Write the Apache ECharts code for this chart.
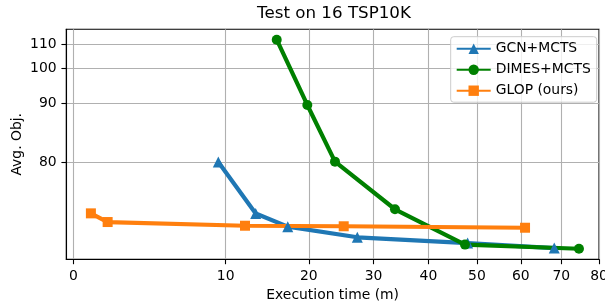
<!DOCTYPE html>
<html>
<head>
<meta charset="utf-8">
<script src="https://cdn.jsdelivr.net/npm/echarts@6/dist/echarts.min.js"></script>
<style>
  html, body { margin: 0; padding: 0; background: #fff; }
  #chart { width: 605px; height: 301px; }
</style>
</head>
<body>
<div id="chart"></div>
<script>
// values
const xTicks = [0, 10, 20, 30, 40, 50, 60, 70, 80];
const yTicks = [80, 90, 100, 110];

const gcnTime = [9.27, 13.24, 17.16, 27.31, 48.0, 68.2];
const gcnObj = [80.0, 75.46, 74.68, 74.13, 73.86, 73.64];

const dimesTime = [15.76, 19.79, 23.81, 33.74, 47.44, 74.6];
const dimesObj = [112.07, 89.54, 80.04, 75.74, 73.79, 73.61];

const glopTime = [0.6, 1.31, 12.04, 25.15, 61.0];
const glopObj = [75.47, 74.94, 74.73, 74.70, 74.62];

// the original axes are not linear: x goes like sqrt(t + 1), y like log10(obj - 70)
const fx = v => Math.sqrt(v + 1);
const fy = v => Math.log10(v - 70);
const pts = (xs, ys) => xs.map((x, i) => [fx(x), fy(ys[i])]);

const font = 'DejaVu Sans';

function lineSeries(name, xs, ys, color, symbol, size) {
  return {
    name: name,
    type: 'line',
    data: pts(xs, ys),
    symbol: symbol,
    symbolSize: size,
    lineStyle: { width: 4.2, color: color },
    itemStyle: { color: color },
    emphasis: { disabled: true }
  };
}

const chart = echarts.init(document.getElementById('chart'));
chart.setOption({
  animation: false,
  backgroundColor: '#fff',
  title: {
    text: 'Test on 16 TSP10K',
    left: 334,
    textAlign: 'center',
    top: 5,
    padding: 0,
    textStyle: { fontFamily: font, fontSize: 16.7, fontWeight: 'normal', color: '#000' }
  },
  grid: {
    left: 66.3, right: 6, top: 29.3, bottom: 41.7,
    outerBoundsMode: 'none',
    show: true, borderColor: '#000', borderWidth: 1.1, backgroundColor: 'transparent'
  },
  legend: {
    data: ['GCN+MCTS', 'DIMES+MCTS', 'GLOP (ours)'],
    orient: 'vertical',
    left: 450.7,
    top: 36.7,
    padding: [5, 6, 4.5, 5],
    itemWidth: 34,
    itemHeight: 13,
    itemGap: 7,
    borderColor: '#cccccc',
    borderWidth: 1,
    borderRadius: 3,
    backgroundColor: 'rgba(255,255,255,0.8)',
    textStyle: { fontFamily: font, fontSize: 13.9, color: '#000' }
  },
  xAxis: {
    type: 'value',
    min: fx(-0.207),
    max: fx(80),
    name: 'Execution time (m)',
    nameLocation: 'middle',
    nameGap: 29,
    nameMoveOverlap: false,
    nameTextStyle: { fontFamily: font, fontSize: 13.9, color: '#000' },
    axisLine: { show: true, lineStyle: { color: '#000', width: 1.1 } },
    axisTick: { show: true, length: 4.9, customValues: xTicks.map(fx), lineStyle: { color: '#000', width: 1.1 } },
    axisLabel: {
      margin: 10,
      customValues: xTicks.map(fx),
      formatter: v => String(Math.round(v * v - 1)),
      fontFamily: font, fontSize: 13.9, color: '#000'
    },
    splitLine: { show: true, lineStyle: { color: '#b0b0b0', width: 1.1 } }
  },
  yAxis: {
    type: 'value',
    min: 0.5036,
    max: 1.677,
    name: 'Avg. Obj.',
    nameLocation: 'middle',
    nameGap: 42,
    nameMoveOverlap: false,
    nameTextStyle: { fontFamily: font, fontSize: 13.9, color: '#000' },
    axisLine: { show: true, lineStyle: { color: '#000', width: 1.1 } },
    axisTick: { show: true, length: 4.9, customValues: yTicks.map(fy), lineStyle: { color: '#000', width: 1.1 } },
    axisLabel: {
      margin: 9.7,
      customValues: yTicks.map(fy),
      formatter: v => String(Math.round(Math.pow(10, v) + 70)),
      fontFamily: font, fontSize: 13.9, color: '#000'
    },
    splitLine: { show: true, lineStyle: { color: '#b0b0b0', width: 1.1 } }
  },
  series: [
    lineSeries('GCN+MCTS', gcnTime, gcnObj, '#1f77b4', 'triangle', 11),
    lineSeries('DIMES+MCTS', dimesTime, dimesObj, '#008000', 'circle', 10),
    lineSeries('GLOP (ours)', glopTime, glopObj, '#ff7f0e', 'rect', 10)
  ]
});
</script>
</body>
</html>
